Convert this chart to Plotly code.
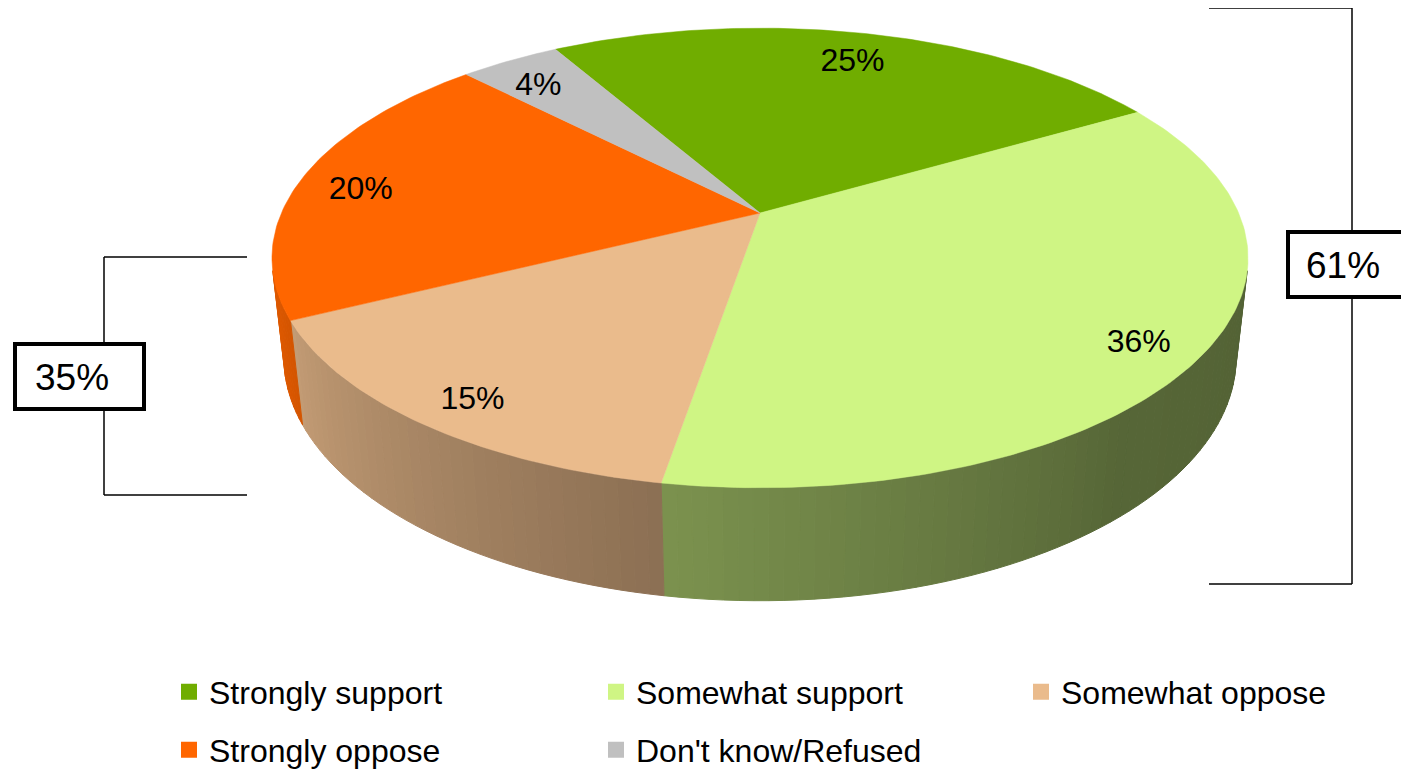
import numpy as np
import plotly.graph_objects as go

# ---------------- data ----------------
categories = ["Strongly support", "Somewhat support", "Somewhat oppose",
              "Strongly oppose", "Don't know/Refused"]
values = [25, 36, 15, 20, 4]
colors = ["#70AD00", "#CFF584", "#EABB8C", "#FF6600", "#C0C0C0"]
support_idx = [0, 1]
oppose_idx = [2, 3]

# ---------------- figure geometry (screen pixels) ----------------
W, H = 1409, 769
OFF = 8                        # page body margin offset
CX, CY = 760.0, 213.0          # projected pie centre
ALPHA = np.radians(27.5)       # view elevation
DIST = 4.534                   # camera distance (pie radii)
FOC = 2170.0                   # focal length (px)
DEPTH = 0.236                  # pie thickness (pie radii)
START = -30.0                  # first slice starts here (deg, clockwise from 12 o'clock)
LABEL_R = 0.87
LABEL_DY = 9
FONT = "Liberation Sans, Arial, sans-serif"


def project(theta_deg, r=1.0, h=0.0):
    t = np.radians(theta_deg)
    s = r * np.sin(t)
    c = r * np.cos(t)
    z = DIST + h * np.sin(ALPHA) + c * np.cos(ALPHA)
    x = CX + FOC * s / z
    y = CY - FOC * (c * np.sin(ALPHA) - h * np.cos(ALPHA)) / z
    return x, y


def hex_rgb(hx):
    hx = hx.lstrip("#")
    return [int(hx[i:i + 2], 16) for i in (0, 2, 4)]


def shade(hx, f):
    r, g, b = hex_rgb(hx)
    return "rgb(%d,%d,%d)" % (r * f, g * f, b * f)


def px(xs):
    return (xs - OFF) / W


def py(ys):
    return 1 - (ys - OFF) / H


total = float(sum(values))
edges = START + 360.0 * np.concatenate([[0.0], np.cumsum(values)]) / total

fig = go.Figure()

# ---------- side walls (visible front part) with lighting gradient ----------
c_lim = -1.0 / (DIST * np.cos(ALPHA))
vis_a = np.degrees(np.arccos(c_lim))
vis_b = 360.0 - vis_a
for i in range(len(values)):
    a0, a1 = edges[i], edges[i + 1]
    lo, hi = max(a0, vis_a), min(a1, vis_b)
    if hi <= lo:
        continue
    n = max(2, int(np.ceil((hi - lo) / 1.5)))
    bnds = np.linspace(lo, hi, n + 1)
    for j in range(n):
        th = np.linspace(bnds[j], bnds[j + 1], 4)
        xt, yt = project(th)
        xb, yb = project(th[::-1], h=DEPTH)
        mid = 0.5 * (bnds[j] + bnds[j + 1])
        f = np.interp(mid, [100, 140, 190, 250, 260], [0.40, 0.42, 0.60, 0.86, 0.88])
        col = shade(colors[i], f)
        fig.add_trace(go.Scatter(
            x=np.concatenate([xt, xb, xt[:1]]), y=np.concatenate([yt, yb, yt[:1]]),
            mode="lines", fill="toself", fillcolor=col,
            line=dict(color=col, width=1), hoverinfo="skip", showlegend=False))

# ---------- top faces ----------
for i in range(len(values)):
    th = np.linspace(edges[i], edges[i + 1], max(8, int(values[i] * 4)))
    xa, ya = project(th)
    xs = np.concatenate([[CX], xa, [CX]])
    ys = np.concatenate([[CY], ya, [CY]])
    fig.add_trace(go.Scatter(
        x=xs, y=ys, mode="lines", fill="toself", fillcolor=colors[i],
        line=dict(color=colors[i], width=0.5), name=categories[i],
        hoverinfo="name", showlegend=False))

# ---------- data labels ----------
mids = 0.5 * (edges[:-1] + edges[1:])
lx, ly = project(mids, r=LABEL_R)
fig.add_trace(go.Scatter(
    x=lx, y=ly + LABEL_DY, mode="text", text=["%d%%" % v for v in values],
    textposition="middle center",
    textfont=dict(family=FONT, size=32, color="black"),
    hoverinfo="skip", showlegend=False))

# ---------- legend entries (one legend per entry, laid out in a grid) ----------
legend_text_x = [211, 638, 1063, 211, 638]
legend_row_y = [692, 692, 692, 750, 750]
legend_names = ["legend", "legend2", "legend3", "legend4", "legend5"]
for i, cat in enumerate(categories):
    fig.add_trace(go.Scatter(
        x=[None], y=[None], mode="markers", name=cat,
        marker=dict(symbol="square", size=16, color=colors[i]),
        legend=legend_names[i]))

legend_layout = {}
for i, nm in enumerate(legend_names):
    legend_layout[nm] = dict(
        x=px(legend_text_x[i] - 42), y=py(legend_row_y[i]),
        xanchor="left", yanchor="middle", orientation="v",
        font=dict(family=FONT, size=32, color="black"),
        bgcolor="rgba(0,0,0,0)", borderwidth=0,
        itemclick=False, itemdoubleclick=False)

# ---------- group brackets ----------
support_total = sum(values[i] for i in support_idx)
oppose_total = sum(values[i] for i in oppose_idx)

line = dict(color="black", width=1.5)
shapes = [
    # right bracket (support)
    dict(type="line", x0=1352, x1=1352, y0=8, y1=584, line=line),
    dict(type="line", x0=1209, x1=1352, y0=8, y1=8, line=line),
    dict(type="line", x0=1209, x1=1352, y0=584, y1=584, line=line),
    # left bracket (oppose)
    dict(type="line", x0=104, x1=104, y0=257, y1=495, line=line),
    dict(type="line", x0=104, x1=247, y0=257, y1=257, line=line),
    dict(type="line", x0=104, x1=247, y0=495, y1=495, line=line),
    # boxes
    dict(type="rect", x0=1288, x1=1424, y0=232, y1=297, fillcolor="white",
         line=dict(color="black", width=4)),
    dict(type="rect", x0=15, x1=144, y0=344, y1=409, fillcolor="white",
         line=dict(color="black", width=4)),
]
for s in shapes:
    s.update(xref="x", yref="y")

annotations = [
    dict(x=1343, y=265, text="%d%%" % support_total, showarrow=False,
         font=dict(family=FONT, size=37, color="black"), xref="x", yref="y"),
    dict(x=72, y=377, text="%d%%" % oppose_total, showarrow=False,
         font=dict(family=FONT, size=37, color="black"), xref="x", yref="y"),
]

fig.update_layout(
    width=W, height=H,
    margin=dict(l=0, r=0, t=0, b=0, autoexpand=False),
    paper_bgcolor="white", plot_bgcolor="white",
    xaxis=dict(range=[OFF, W + OFF], visible=False, fixedrange=True),
    yaxis=dict(range=[H + OFF, OFF], visible=False, fixedrange=True),
    shapes=shapes, annotations=annotations,
    showlegend=True,
    hovermode="closest",
    **legend_layout,
)

fig.write_html("out.html")
